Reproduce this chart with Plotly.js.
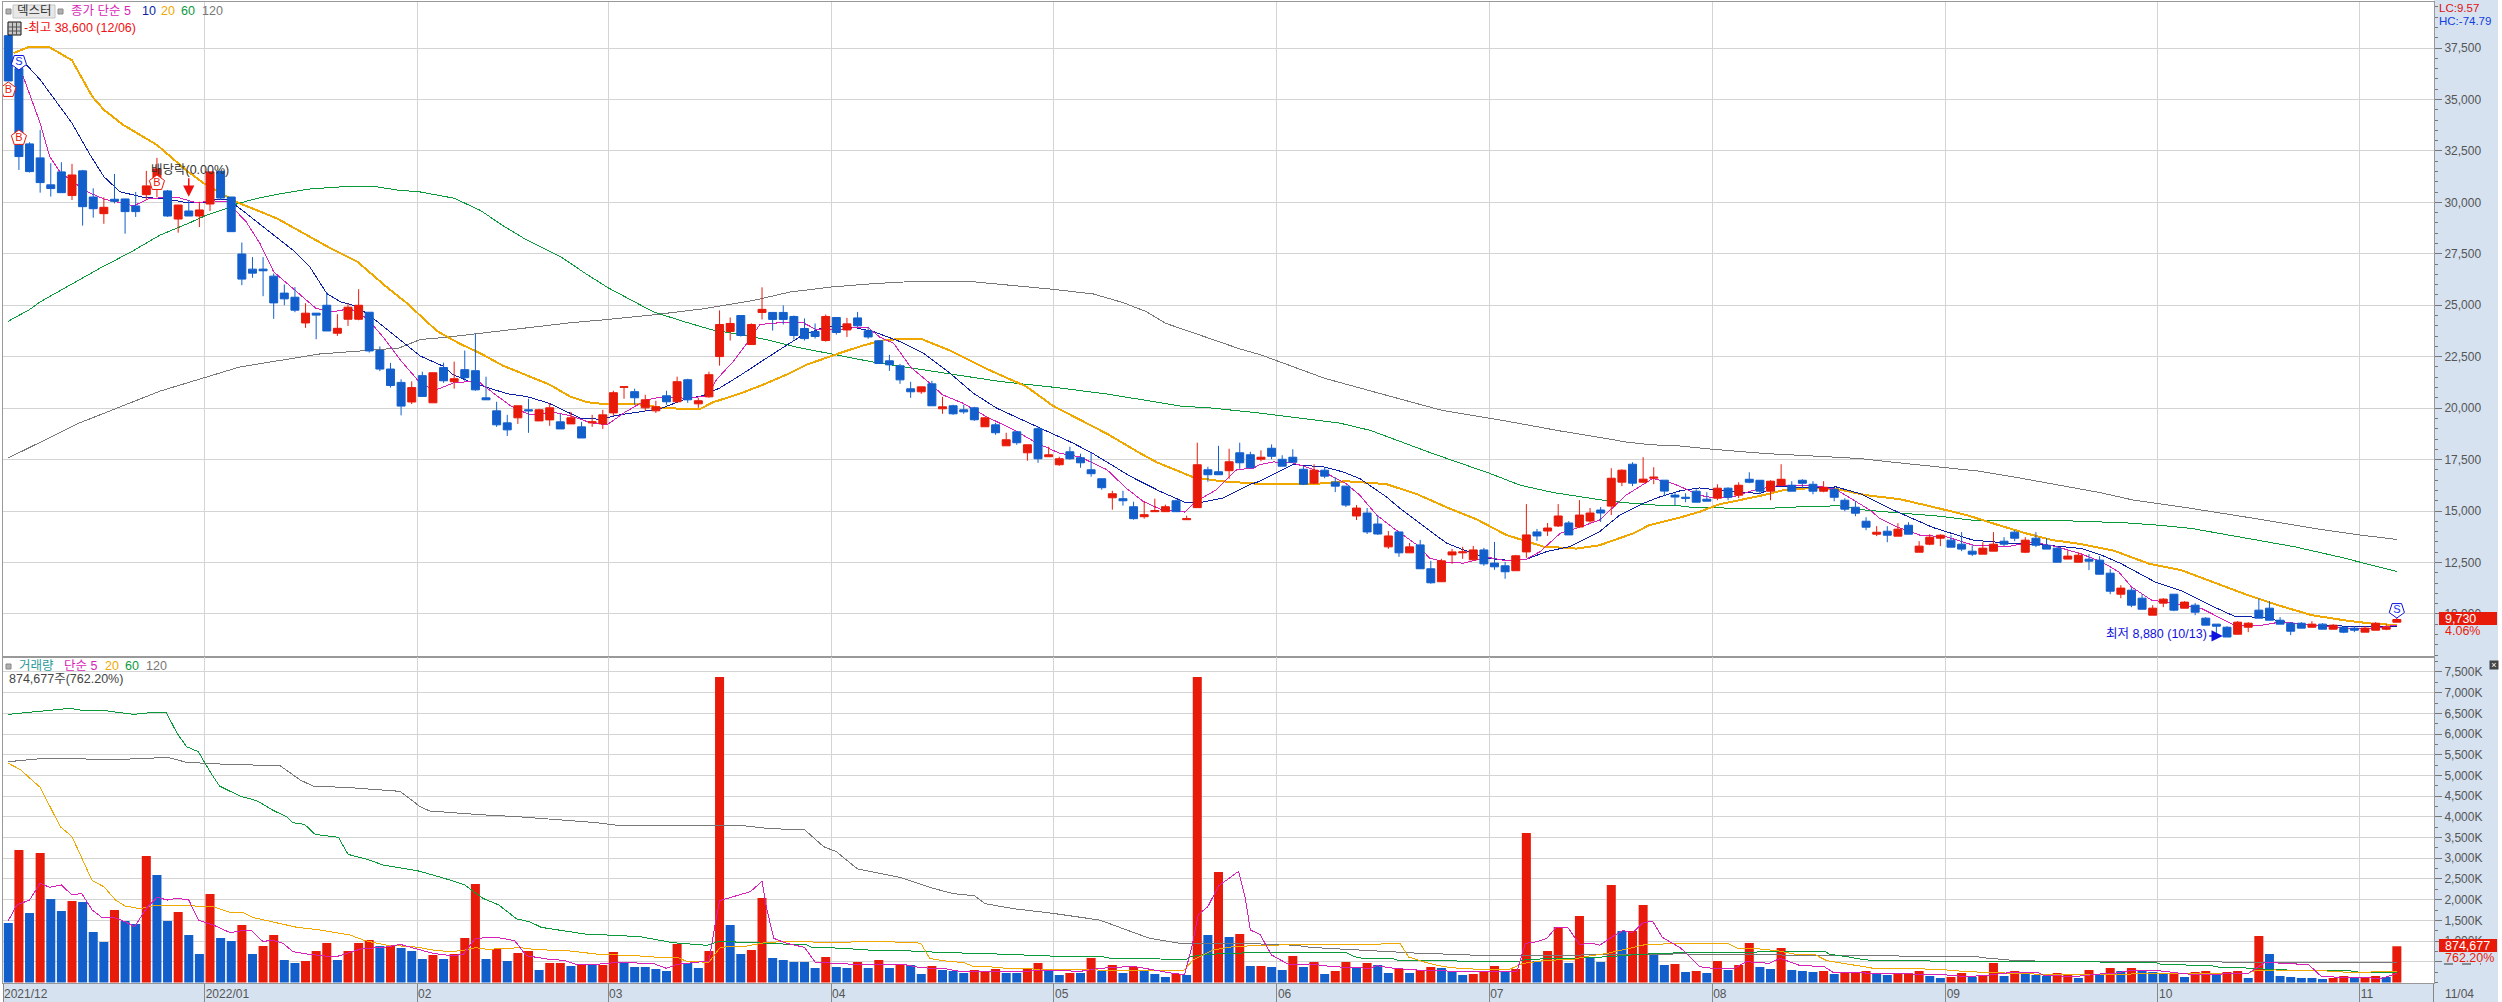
<!DOCTYPE html>
<html><head><meta charset="utf-8">
<script src="https://cdn.plot.ly/plotly-3.0.1.min.js"></script>
<style>html,body{margin:0;padding:0;background:#fff}#c{width:2502px;height:1002px}#c .js-line{shape-rendering:crispEdges}</style>
</head><body><div id="c"></div>
<script>
const openP=[38100,36500,32840,32160,30850,31480,30330,31530,30260,29450,
30150,30165,29825,30375,30650,30555,29190,29580,29335,29920,
31510,30260,27490,26755,26755,26415,25590,25390,24140,24615,
25000,23640,24320,24320,24660,22800,21900,21250,20300,21580,
20260,21970,21285,21870,21820,20500,19870,19285,19530,19920,
19380,19430,19335,19235,19090,19285,19235,19770,21010,20800,
20015,19870,20600,20310,21380,20210,20550,22505,23725,24500,
23090,24650,24650,24650,24455,23870,23725,23285,24405,23800,
24385,23755,23270,22300,22055,20940,20795,21180,19970,20115,
19920,20015,19095,19190,18170,18850,17830,19000,17640,17250,
17880,17590,17005,16570,15645,15600,15210,14725,14970,14970,
15500,14580,15165,17005,16910,16960,17830,17735,17515,18050,
17515,17615,17030,16355,16985,16405,16210,14760,14905,14370,
13260,13985,12970,13355,12195,11565,12870,12970,12630,13110,
12470,12340,12100,13015,13985,14030,14275,14420,14225,14515,
15050,15240,16405,17275,16405,16595,16500,15775,15670,15965,
15575,15625,16110,15770,16545,16495,15965,16255,16255,16495,
16300,15965,16060,15525,15185,14505,13875,14020,13780,14310,
13000,13390,13680,13585,13390,13050,12905,13050,13535,13975,
13000,13680,13340,13195,12665,12515,12660,12615,11980,10960,
11155,10765,9940,10525,10960,10280,10425,9795,9505,9355,
9015,9355,10185,10280,9695,9550,9550,9355,9505,9260,
9355,9310,9115,9210,9260,9600];
const highP=[38600,37000,32920,33520,31900,31950,31870,31575,30680,30245,
31380,30165,30505,31530,32160,30600,29870,30115,30030,31480,
31510,30260,28050,27340,27340,26545,26010,25880,25100,24615,
25620,24565,25100,25780,24660,23000,22200,21400,21300,21770,
21720,22210,22260,22800,23610,21530,20310,19675,20115,20455,
19970,20245,19725,19820,19335,19675,19920,20845,21040,20945,
20650,20360,20845,21530,21430,20505,21770,24750,24405,24500,
24115,25870,24650,24990,24500,24360,24115,24550,24405,24385,
24675,23950,23270,22590,22150,21280,21035,21330,20550,20165,
20165,20065,19580,19290,18805,18850,18220,19095,18125,17640,
18125,17785,17830,16570,15985,15985,15455,15455,15600,15310,
15550,14775,18320,17150,18170,18025,18320,17880,17950,18240,
17710,18000,17180,17275,17130,16645,16210,15290,15145,14805,
14030,13985,13450,13600,12580,12680,13160,13260,13305,13210,
13500,12530,12870,15340,14130,14420,15340,14515,15530,15145,
15195,17080,17030,17370,17615,17130,16500,15870,15865,16060,
15915,16300,16155,16400,16885,16495,16495,17275,16450,16545,
16450,16450,16110,15625,15475,14700,14265,14265,14410,14460,
13535,13875,13875,13825,13975,13340,13485,13975,13730,14070,
13730,13975,13680,13295,13100,13000,12905,12810,12175,11400,
11255,10960,10425,10765,10960,10620,10525,9845,9505,9405,
9650,9600,10750,10620,9845,9600,9600,9650,9550,9505,
9405,9405,9405,9600,9505,9890];
const lowP=[35900,31575,31450,30470,30280,30470,30115,28870,29255,28960,
29950,28475,29290,30115,30250,29300,28525,29335,28800,29580,
30115,28575,25975,26335,25440,24340,25000,24660,23900,23350,
23750,23510,23995,24270,22700,21800,21000,19650,20200,20570,
20260,21235,20945,21330,20845,20400,19090,18650,19235,18800,
19380,19140,18990,19235,18550,19090,18990,19625,20455,20165,
19870,19770,20165,20260,20260,20015,20505,22065,23285,23480,
23090,24310,23770,24065,23335,23285,23380,23235,23575,23460,
23950,23365,22170,21810,21180,20500,20695,20115,19725,19675,
19725,19385,19095,18705,18170,18220,17445,17345,17640,17200,
17490,17105,16670,16035,15065,15260,14580,14630,14970,14970,
14970,14580,15165,16425,16765,16570,17055,17105,17420,17515,
17180,17370,16260,16305,16595,15920,15195,14565,13885,13840,
13160,12775,12970,12195,11470,11565,12435,12680,12630,12340,
12145,11710,12100,12725,13550,13790,14225,13840,14175,14420,
14470,14805,16210,16210,16355,16305,15725,15275,15430,15430,
15480,15525,15525,15625,16350,15815,15525,16255,15965,16110,
15815,15915,15475,14990,14750,14070,13780,13485,13780,13875,
13000,13340,13295,13245,13050,12810,12905,13050,13295,13535,
12955,13245,13150,12515,12665,12515,12130,11930,10960,10765,
10330,10230,9940,10330,10135,10280,9940,9455,8920,8880,
9015,9115,9795,9695,9505,8970,9310,9355,9260,9260,
9065,9115,9115,9210,9210,9600];
const closeP=[35900,32225,31495,30960,30670,30470,31330,29790,29690,29760,
30050,29550,29550,30800,31625,29335,29870,29335,29630,31480,
30210,28575,26270,26560,26675,25115,25310,24760,24615,24520,
23750,23880,24905,25000,22780,21900,21100,20100,21000,20570,
21720,21330,21430,21480,20890,20405,19190,18945,20115,19870,
19920,20015,18990,19530,18550,19335,19675,20750,21040,20505,
20405,20065,20310,21285,20405,20360,21625,24065,24115,23530,
24065,24800,24310,24310,23530,23380,23480,24455,23675,24095,
24000,23460,22170,22105,21375,20795,21035,20115,20065,19725,
19820,19435,19530,18805,18465,18320,18220,17540,17735,17540,
17540,17345,16815,16135,15840,15500,14630,14825,15020,15210,
14970,14630,17250,16765,16765,17395,17345,17105,17615,17660,
17180,17370,16305,16985,16695,16210,15290,15145,13985,13885,
13790,12970,13260,12195,11515,12580,13015,13015,13110,12435,
12290,12050,12825,13840,13790,14175,14760,13840,14805,14905,
14905,16595,16985,16355,16550,16645,15970,15680,15620,15430,
15480,16110,15670,16255,16400,15965,16450,16545,15965,16350,
15965,16155,15670,15090,14895,14215,13970,13825,14120,13875,
13295,13730,13825,13245,13150,12905,13195,13390,13390,13680,
13585,13340,13150,12515,12810,12855,12565,11930,11105,11255,
10425,10230,10280,10720,10185,10575,10085,9455,9405,8880,
9600,9550,9795,9695,9505,9160,9310,9505,9260,9455,
9115,9210,9310,9550,9355,9730];
const volumeK=[1437,3200,1678,3127,2016,1727,1968,1944,1220,978,
1751,1485,1413,3055,2596,1485,1703,1147,688,2137,
1075,1002,1389,688,881,1147,543,471,519,761,
954,543,761,954,1026,881,906,833,761,568,
664,568,688,1075,2379,568,809,519,712,761,
302,471,471,398,447,447,423,737,471,374,
374,326,278,930,471,350,761,7380,1389,688,
785,2041,592,543,495,495,350,616,374,350,
495,350,543,350,447,423,205,398,302,278,
229,302,278,326,229,229,326,471,278,181,
229,229,592,278,423,229,374,278,205,133,
205,181,7380,1147,2668,1099,1171,398,398,374,
302,640,374,495,205,278,495,350,471,423,
229,326,229,302,374,350,254,181,205,254,
398,254,326,3610,519,761,1340,471,1606,616,
495,2355,1244,1244,1872,664,423,447,254,278,
229,519,302,423,954,374,326,833,302,278,
254,278,205,229,229,278,205,181,229,229,
278,157,109,133,229,133,181,471,157,278,
205,181,157,229,181,109,302,181,350,278,
350,278,254,229,229,133,254,278,229,254,
278,109,1123,688,157,133,109,109,85,109,
157,109,109,157,133,875];
const volumeDir=("BRBRBBRBBB"+"RBBRBBRBBR"+"BBRBRRBBRR"+"RBRRRBRBBB"+"RBRRRBRBRR"+"BRRBRBRRBB"+"BBBRBBRRBB"+"RRBBBBBRBB"+"RBRBRBBRBB"+"BRRRBBRRBB"+"RBRBRBRBBB"+"RBRBRBRBRB"+"BRBRBRRBRB"+"BRBRRBBBRR"+"RBRRBRRBRB"+"BRBRRBBRBR"+"BRBRRBBRBB"+"BRBRRRBBRR"+"RBBRRBRRBR"+"BBBRRBRBRB"+"RBBBRBRRBR"+"RBRBBBBBBR"+"RBRRBR").split("");

const priceMa120X=[0,6.7,14.3,21.8,29.3,36.8,38.8,41.4,44,48.2,52.9,56.5,60.8,65.5,70.2,73.6,77.6,81.5,85.6,90.4,94.7,98.4,102.2,105,107.2,109,111.3,113.8,116,117.9,124,130,135,140.8,143,146.2,149.3,152.4,154.6,157.5,160.6,165.6,170.6,174.4,177.6,182.6,185.7,188.9,192,197,200.2,204.7,211,217.3,221.4,225];
const priceMa120=[17580,19280,20830,22000,22630,22920,23333,23450,23610,23870,24146,24310,24536,24830,25235,25640,25890,26050,26165,26165,25970,25775,25550,25130,24690,24125,23720,23285,22880,22605,21450,20600,19900,19400,19190,18890,18630,18355,18225,18160,18000,17790,17660,17550,17370,17095,16935,16660,16370,15900,15530,15205,14690,14150,13845,13620];
const priceMa60X=[0,2,3,6,8.6,11.6,14.3,17.1,18.7,20.6,21.5,23.1,25.3,28.4,32.2,34.4,36.6,38.8,42,44.5,46.5,48.7,52,54.5,56.5,58.9,60.8,64,66.4,68.9,71.4,74.3,78.3,81.5,84.6,88.7,93.4,98.4,103.4,110.7,112.9,117.9,123.5,125.4,128.3,132,134.2,139.6,142.4,145.5,150.2,152.4,155.6,157.5,158.7,165.3,170,172.5,175,181.9,185,194.2,199.4,202.5,205.7,211,215.4,219.8,225];
const priceMa60=[24225,24790,25165,26055,26790,27600,28410,29010,29385,29710,29920,30150,30390,30650,30780,30780,30600,30505,30200,29600,28900,28210,27365,26500,25850,25190,24670,24150,23790,23580,23330,22960,22550,22235,21990,21665,21295,21020,20695,20080,20030,19760,19400,19275,18920,18225,17790,16820,16260,15900,15530,15400,15275,15250,15170,15120,15235,15250,15040,14750,14555,14520,14430,14315,14150,13665,13260,12745,12060];
const priceMa20X=[0.5,2,3.9,6,7.9,9,10.8,12.4,14,16.8,18.4,20.6,21.8,25.3,28.1,30.1,32.9,35.6,37.4,38.8,40.4,42.5,44.4,46.6,49.1,51,52.9,54.5,56.4,59.5,61.4,63.3,65.2,66.4,68.9,71.1,73.3,75.2,78.3,80.2,82.1,84,86,88.7,92.5,95.9,98.4,101,103.5,106.6,108.2,111.6,114.1,117.9,122.9,126,129.8,132.7,135.5,138.3,141.1,144.6,147.7,149.9,153.1,154.6,157.5,159.3,161.2,165,167.2,170,172.5,175,178.2,181.3,184.5,187.3,190.1,192.6,195.2,198.4,201.6,204.7,207.9,211,214.1,217,220.4,222.6,225];
const priceMa20=[37255,37565,37530,36900,35150,34500,33770,33280,32790,31540,30930,30280,29950,29220,28410,27840,27110,25900,25165,24510,23740,23140,22680,22065,21545,21140,20570,20290,20180,20180,20030,19970,19970,20290,20700,21140,21625,22115,22670,22995,23270,23365,23365,22800,21830,21050,20115,19435,18755,17815,17365,16650,16455,16320,16310,16450,16310,15820,15180,14600,13840,13275,13175,13340,13920,14320,14690,14960,15330,15735,16010,16125,16045,15770,15575,15200,14800,14345,13910,13585,13400,13065,12450,12125,11510,10910,10380,9940,9665,9535,9455];
const priceMa10X=[1.7,3,6,7.7,9,10.5,12.7,14.9,16.8,18.4,19.3,20.6,21.8,24,26.8,28.4,30,31.3,32.5,33.8,36.9,38.8,41,41.9,43.8,47,48.8,50.9,53.9,55.7,57.6,59.5,61.4,63.6,65.5,67,68.9,71.1,73.3,74.9,77,78.3,79.6,81.5,84,86.2,88.7,90.9,93.1,96.9,100.3,102.2,105.7,108.5,111,112.4,114.4,116.9,117.9,121,123.9,125.7,127.3,129.8,131.1,133.6,135.5,137.1,139.3,141.8,143,144.9,147.1,149.9,151.8,154,155.6,157.5,159.3,161.2,165,166.6,169.4,172.2,174.4,177.6,181.3,185.1,188.9,192,195.3,197.2,199,202.2,204.7,207.9,209.7,212.3,214.8,217.3,220.4,225];
const priceMa10=[36690,35960,33850,32310,31250,30520,30245,30165,29985,29985,30115,30150,29710,28820,27680,26870,25570,25165,25000,24600,23300,22535,22030,21625,21220,20700,20570,20245,19510,19465,19675,19805,19970,20405,20620,20975,21575,22325,23040,23575,23950,23970,23930,23720,23235,22670,21700,20730,20000,19110,18300,17785,16685,15955,15390,15420,15630,16280,16450,17260,17145,16905,16580,15695,15130,14160,13435,13110,12710,12580,12660,13030,13275,14000,14805,15370,15695,15985,16125,16010,15850,16205,16140,16170,15850,15040,14200,13585,13420,13340,13180,12855,12450,11560,11125,10310,9890,9830,9570,9455,9405,9405];
const priceMa5X=[1.4,3,3.9,4.9,7.4,9,11.8,13.3,15.9,17.7,19.3,20.6,22.4,23.7,25,26.8,29,30.6,32.2,33.8,35.3,37,39,40.4,41.9,43.5,44.4,45.7,47.3,49.1,51.3,52.9,54.8,56.4,58.2,60.1,61.4,63.6,65.8,66.7,68.3,69.5,70.8,73.3,74.9,76.1,78.3,79.9,81,82.1,83.4,85,86.8,88,89.9,92.1,94.7,96.9,99,101,103.5,105.3,106.9,108.5,110.8,111.9,113.8,115.7,117.3,117.9,119.2,121,124.2,126,127.3,128.9,130.5,132.7,133.9,135.5,137.1,139.3,141.1,143,144.3,146.2,148,149.9,151.2,152.4,154.9,156.8,157.5,159.3,160.6,162.5,164.4,166.9,170.6,172.2,174.1,175.4,176.3,177.9,180.1,182.6,185.1,188.2,190.7,193,195.2,197.2,198.8,200,201.9,204.1,206.6,207.9,209.7,212.3,214.1,217.3,220.4,222.6,225];
const priceMa5=[36120,33850,32225,31450,30520,30165,29825,30195,30245,29985,30070,30030,29060,28005,26625,25815,24840,24680,24840,24355,23460,22300,21100,20910,21220,21300,21250,20730,20115,19675,19805,19640,19300,19190,19840,20400,20535,20490,20570,21380,22275,23090,24065,24180,24145,23820,23790,23930,23915,23445,23155,21990,21215,20650,20245,19595,18950,18300,17815,17620,17005,16115,15470,15095,14950,15470,16035,17005,17090,17260,17385,17340,16820,16340,15775,14805,14160,13355,12710,12500,12470,12760,12580,12660,13030,13920,14210,14565,15175,15775,16580,16340,16190,15770,15640,15690,16010,16255,16205,16045,15445,15040,14635,14230,13825,13745,13340,13260,13500,13260,12930,12530,12045,11315,10670,10510,10265,9940,9455,9455,9615,9455,9295,9295,9455];

const volMa120X=[0,3,6.4,9.3,12.4,15,16.8,20.6,25.6,27.5,28.7,32.2,36.9,38.8,39.7,44.4,48,51,55.4,57.6,66.4,69.2,71.7,75,76.8,78,80,84,86.8,89,91,92,94.7,98.4,102.8,105.3,107.5,110.7,113,118,121.4,122.6,126.7,129.5,133.6,136.7,138.6,142.4,157.5,163.4,171,172,174.4,185.4,186.3,188.5,191.7,197,204.4,216.7,225];
const volMa120=[5333,5405,5405,5381,5405,5437,5317,5268,5236,4890,4745,4705,4617,4246,4142,4053,4005,3941,3860,3788,3779,3788,3715,3691,3280,3160,2741,2540,2298,2145,2097,1904,1783,1670,1509,1284,1067,930,938,930,898,849,793,769,696,680,648,648,690,672,656,640,640,624,592,543,511,503,495,487,487];
const volMa60X=[0,2.4,4.6,5.8,6.9,9.1,11.8,13.7,14.9,15.9,16.8,17.9,19,19.9,21.8,23.4,25,26.2,26.8,27.9,28.9,31.1,32,33.8,35.3,38.7,41.6,43,44.7,46.2,47.9,49.1,50.2,52.6,54.5,56.4,59.5,62.6,65.8,67,70.2,75.2,75.7,78.3,81.5,84.3,88.4,91.5,96.5,99.7,103.1,103.8,111,111.3,112.9,117.9,126,126.8,127.6,130.3,130.9,136.4,136.7,142.2,143,149.3,153.7,157.5,163.7,166.9,171.1,171.6,173.2,174.4,175.7,182.6,197,202.2,202.8,207.5,208.5,210.4,211.6,215.4,220.7,221.5,225];
const volMa60=[6476,6533,6598,6621,6573,6565,6476,6525,6509,6017,5695,5574,5092,4745,4504,4391,4150,4005,3860,3820,3578,3506,3095,2975,2838,2690,2476,2355,2033,1872,1534,1469,1332,1228,1163,1147,1107,962,898,994,962,906,849,830,777,769,720,704,656,624,624,584,559,624,680,729,729,624,584,584,535,527,503,503,559,600,680,720,729,753,753,680,624,567,527,511,495,487,439,406,358,358,334,294,278,246,246];
const volMa20X=[0,1.1,3,4.9,6,7.9,9,10.1,11,12.4,14,15,15.9,19.3,20.9,22.1,23.1,25.9,27.2,29.4,32.2,33.6,35.6,38.7,39.7,41.6,42.9,44,45.1,48.2,49.8,52.6,55.4,59.5,61.7,63,63.9,66,67,67.7,69.6,71.4,73.3,78.3,81.5,85.6,86,86.8,88,90,90.9,92.5,92.8,98.4,110.7,111.6,113.5,115.4,117.9,123.5,128.4,131.1,131.9,133.6,135.2,136.7,138.6,141.4,142.7,144.9,147.4,148.7,150.6,153.1,154.3,157.5,162,163,164.4,166.6,168.4,170.2,171.3,174.4,175.7,180.4,180.7,182.6,184.5,191.7,197,203.1,211,211.6,213.5,215.7,217.9,220.4,225];
const volMa20=[5293,5148,4713,3763,3522,2459,2314,1992,1848,1783,1872,1848,1864,1831,1695,1695,1566,1413,1332,1268,1147,1010,906,850,793,745,777,841,801,841,793,769,688,640,600,608,511,487,833,865,881,970,986,970,994,962,930,584,527,479,390,390,358,310,286,543,785,865,898,922,922,946,616,479,382,342,318,318,463,535,559,632,704,849,922,938,946,809,825,769,680,672,527,398,342,342,310,302,262,197,190,221,221,286,302,294,286,246,262];
const volMa5X=[0,0.8,2,3,3.9,5,6,6.9,7.9,8.8,10,11,11.9,13,14,15,15.9,17,17.9,19.3,20.9,22,22.9,24,24.8,25.9,26.8,28.1,29.8,31.1,33.4,35.3,36.9,38.7,40,41.9,42.9,44,46,47.7,48.8,50.7,52.3,53.5,55.4,56.4,57.6,60.8,62,63,66,66.6,67,69.9,71,71.4,72.1,73.3,75,76,78.3,81.5,84.6,85.9,88.4,89.6,95.9,97.2,101,102.8,106,109.7,110.8,111.5,112.1,113,114,115.9,116.5,117,117.9,119,120.7,122.6,124.8,128.3,128.9,130.5,132.7,134.2,136.4,142.1,142.9,144,144.9,145.8,146.9,148,149.3,149.9,151.2,152.1,153,154,154.9,155.8,157.5,158.4,159.3,160.6,162.5,163.7,165.9,166.9,168.8,171,171.9,179.4,182.6,184.5,186.7,188.5,191.2,191.7,194.5,197,198.4,200,202.5,204.7,206,211,212.6,216.7,217.9,223.6,225];
const volMa5=[1493,1872,1992,2395,2298,2355,2113,2153,1751,1574,1566,1469,1348,1791,2057,1992,2033,1992,1509,1389,1203,1252,1252,986,1026,946,745,688,640,640,825,841,922,790,704,640,688,1067,1091,1010,648,568,535,439,439,463,487,455,342,439,519,1429,1976,2194,2443,1831,1067,946,849,495,455,423,423,358,326,270,270,302,270,342,390,221,189,865,1646,1832,2331,2685,2073,1268,1163,664,423,447,382,342,407,342,302,302,262,254,946,986,1059,1332,1332,922,946,898,1123,1252,1204,1445,1477,1091,840,624,382,342,326,503,463,584,407,390,246,205,181,141,181,238,238,181,141,205,221,294,286,221,189,221,487,431,141,101,221];

const monthStarts=[0,19,39,57,78,99,120,140,161,183,203,222];
const monthLabels=["2021/12","2022/01","02","03","04","05","06","07","08","09","10","11"];
const lastDateLabel="11/04";
const barCount=openP.length;
const signalX=[0,1,14,1,225];
const signalPrice=[35460,33130,30940,36820,10190];
const signalText=["B","B","B","S","S"];
const volumeTicks=[500,1000,1500,2000,2500,3000,3500,4000,4500,5000,5500,6000,6500,7000,7500];

const RED="#e81a0a",BLUE="#125fcc",MAG="#d81fb8",NAVY="#0c1fa6",ORG="#f0a800",GRN="#0a9a3c",GRY="#777777";
const STRIP="#d6e2f0",GRID="#d4d4d4",FRAME="#999999",TXT="#555555";
const W=2502,H=1002;
const px=x=>x/W, py=y=>1-y/H;
const FONT='"Liberation Sans","Noto Sans CJK KR",sans-serif';
const idx=Array.from({length:barCount},(_,i)=>i);
const line=(x,y,c,w,xa,ya)=>({type:"scatter",mode:"lines",x,y,xaxis:xa,yaxis:ya,line:{color:c,width:w},hoverinfo:"skip",showlegend:false});

const monthTicks=monthStarts.map(i=>i-0.5).concat([228.49]);
const monthText=monthLabels.concat(["\u00a0\u00a0\u00a0"+lastDateLabel]);

const data=[
 line(priceMa120X,priceMa120,GRY,1,"x","y"),
 line(priceMa60X,priceMa60,GRN,1,"x","y"),
 line(priceMa20X,priceMa20,ORG,2,"x","y"),
 line(priceMa10X,priceMa10,NAVY,1,"x","y"),
 line(priceMa5X,priceMa5,MAG,1,"x","y"),
 {type:"candlestick",x:idx,open:openP,high:highP,low:lowP,close:closeP,xaxis:"x",yaxis:"y3",
  increasing:{line:{color:RED,width:1},fillcolor:RED},decreasing:{line:{color:BLUE,width:1},fillcolor:BLUE},
  whiskerwidth:0,hoverinfo:"skip",showlegend:false},
 {type:"scatter",mode:"markers+text",x:signalX,y:signalPrice,text:signalText,xaxis:"x",yaxis:"y3",
  textposition:"middle center",textfont:{family:FONT,size:11,color:signalText.map(t=>t==="B"?RED:"#1030ee")},
  marker:{symbol:"pentagon",size:16,angle:signalText.map(t=>t==="B"?0:180),color:"#ffffff",
    line:{width:1,color:signalText.map(t=>t==="B"?RED:"#1010e0")}},hoverinfo:"skip",showlegend:false},
 {type:"bar",x:idx,y:volumeK,xaxis:"x2",yaxis:"y2",width:0.85,marker:{color:volumeDir.map(d=>d==="R"?RED:BLUE),line:{width:0}},hoverinfo:"skip",showlegend:false},
 line(volMa120X,volMa120,GRY,1,"x2","y2"),
 line(volMa60X,volMa60,GRN,1,"x2","y2"),
 line(volMa20X,volMa20,ORG,1,"x2","y2"),
 line(volMa5X,volMa5,MAG,1,"x2","y2")
];

const label=(x,y,text,color,size,extra)=>Object.assign({xref:"paper",yref:"paper",x:px(x),y:py(y),text,showarrow:false,xanchor:"left",yanchor:"middle",font:{family:FONT,size:size||12,color}},extra||{});
const annotations=[
 label(15,11,"덱스터","#333333",12.5),
 label(69,11,"종가 단순 5",MAG,12.5),
 label(140,11,"10",NAVY,12.5),
 label(159,11,"20",ORG,12.5),
 label(179,11,"60",GRN,12.5),
 label(200,11,"120",GRY,12.5),
 label(22,28,"-최고 38,600 (12/06)","#f01010",12.5),
 label(17,666,"거래량","#2a9a9a",12.5),
 label(62,666,"단순 5",MAG,12.5),
 label(103,666,"20",ORG,12.5),
 label(123,666,"60",GRN,12.5),
 label(144,666,"120",GRY,12.5),
 label(7,679,"874,677주(762.20%)","#444444",12.5),
 label(2437,8,"LC:9.57","#e01010",11.5),
 label(2437,21,"HC:-74.79","#1040e0",11.5),
 label(2443,618.5,"9,730","#ffffff",12.5),
 label(2443,631,"4.06%",RED,12.5),
 label(2443,945.5,"874,677","#ffffff",12.5),
 label(2443,957.5,"762.20%",RED,12.5),
 label(2104,634,"최저 8,880 (10/13)","#1010e0",12.5),
 label(149,170,"배당락(0.00%)","#333333",12.5),
 label(2489,664.5,"×","#ffffff",9,{bgcolor:"#444444",borderpad:0,width:8,height:8,align:"center"}),
 {xref:"x",yref:"y",x:17,y:30275,ax:0,ay:-20,text:"",showarrow:true,arrowhead:2,arrowsize:1.5,arrowwidth:1.5,arrowcolor:"#f01010"},
 {xref:"x",yref:"y",x:208.6,y:8930,ax:-15,ay:0,text:"",showarrow:true,arrowhead:2,arrowsize:1.5,arrowwidth:1.5,arrowcolor:"#1010e0"}
];
const rectP=(x0,y0,x1,y1,fill,lc,layer)=>({type:"rect",xref:"paper",yref:"paper",x0:px(x0),x1:px(x1),y0:py(y0),y1:py(y1),fillcolor:fill,line:{color:lc||fill,width:lc?1:0},layer:layer||"above"});
const shapes=[
 rectP(2434,0,2498,1002,STRIP,null,"below"),
 rectP(3,983,2498,1002,STRIP,null,"below"),
 rectP(6,9,11,14,"#b0b0b0","#888888"),
 rectP(13,5,55,18,"#e8e8e8","#c4c4c4"),
 rectP(58,9,63,14,"#b0b0b0","#888888"),
 rectP(6,664,11,669,"#b0b0b0","#888888"),
 rectP(8,22,21,35,"#c8c8c8","#111111"),
 {type:"line",xref:"paper",yref:"paper",x0:px(8),x1:px(21),y0:py(27),y1:py(27),line:{color:"#555555",width:1}},
 {type:"line",xref:"paper",yref:"paper",x0:px(8),x1:px(21),y0:py(31),y1:py(31),line:{color:"#555555",width:1}},
 {type:"line",xref:"paper",yref:"paper",x0:px(12.5),x1:px(12.5),y0:py(22),y1:py(35),line:{color:"#555555",width:1}},
 {type:"line",xref:"paper",yref:"paper",x0:px(16.5),x1:px(16.5),y0:py(22),y1:py(35),line:{color:"#555555",width:1}},
 rectP(2439,612,2497,625,RED),
 rectP(2439,939,2497,952,RED),
 {type:"line",xref:"paper",yref:"paper",x0:px(2444),x1:px(2481),y0:py(964),y1:py(964),line:{color:"#333333",width:1,dash:"dash"}}
];
const xCommon={range:[-0.5,228.5],domain:[px(3),px(2434)],tickmode:"array",tickvals:monthTicks,showgrid:true,gridcolor:GRID,gridwidth:1,zeroline:false,showline:true,linecolor:FRAME,linewidth:1,mirror:true,fixedrange:true};
const yFont={family:FONT,size:12,color:TXT};
const layout={
 width:W,height:H,autosize:false,margin:{l:0,r:0,t:0,b:0,pad:0},paper_bgcolor:"#ffffff",plot_bgcolor:"#ffffff",showlegend:false,hovermode:false,dragmode:false,boxgap:0.25,boxgroupgap:0,
 xaxis:Object.assign({},xCommon,{anchor:"y",ticktext:monthTicks.map(()=>""),showticklabels:false,ticks:"",rangeslider:{visible:false},type:"linear"}),
 xaxis2:Object.assign({},xCommon,{anchor:"y2",ticktext:monthText,showticklabels:true,ticks:"outside",ticklen:19,tickcolor:"#888888",tickwidth:1,ticklabelposition:"outside right",tickfont:yFont,type:"linear"}),
 yaxis:{domain:[py(657),py(2)],range:[7908,39735],side:"right",anchor:"x",tick0:0,dtick:2500,tickformat:",d",showgrid:true,gridcolor:GRID,zeroline:false,showline:true,linecolor:FRAME,mirror:true,ticks:"outside",ticklen:7,tickcolor:"#777777",tickfont:yFont,minor:{tick0:0,dtick:500,ticks:"outside",ticklen:3,tickcolor:"#777777",showgrid:false},fixedrange:true},
 yaxis3:{overlaying:"y",range:[7908,39735],side:"right",anchor:"x",visible:false,fixedrange:true},
 yaxis2:{domain:[py(983),py(657)],range:[-12,7861],side:"right",anchor:"x2",tickmode:"array",tickvals:volumeTicks,ticktext:volumeTicks.map(v=>v===500?"":v.toLocaleString("en-US")+"K"),showgrid:true,gridcolor:GRID,zeroline:false,showline:true,linecolor:FRAME,mirror:true,ticks:"outside",ticklen:7,tickcolor:"#777777",tickfont:yFont,minor:{tick0:0,dtick:250,ticks:"outside",ticklen:3,tickcolor:"#777777",showgrid:false},fixedrange:true},
 annotations,shapes
};
Plotly.newPlot("c",data,layout,{displayModeBar:false,staticPlot:true});
</script></body></html>
